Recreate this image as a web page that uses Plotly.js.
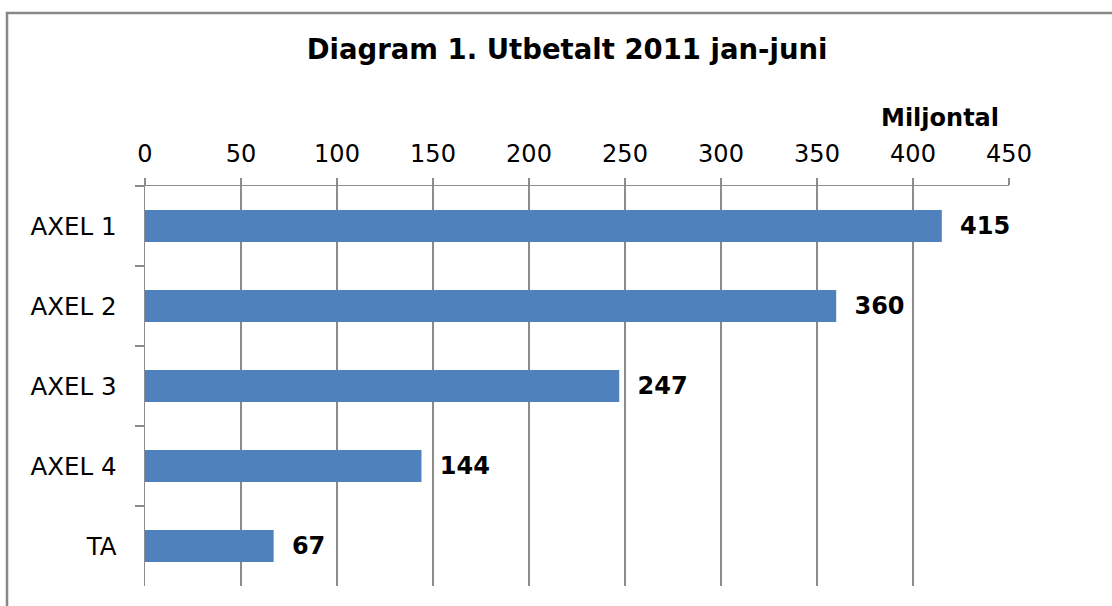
<!DOCTYPE html>
<html>
<head>
<meta charset="utf-8">
<script src="https://cdn.plot.ly/plotly-3.0.1.min.js"></script>
<style>
html,body{margin:0;padding:0;background:#fff;}
#chart{width:1112px;height:606px;}
</style>
</head>
<body>
<div id="chart"></div>
<script>
var categories = ["AXEL 1", "AXEL 2", "AXEL 3", "AXEL 4", "TA"];
var values = [415, 360, 247, 144, 67];
var tickValues = [0, 50, 100, 150, 200, 250, 300, 350, 400, 450];
var titleText = "Diagram 1. Utbetalt 2011 jan-juni";
var unitLabel = "Miljontal";

var FONT = "'DejaVu Sans', Verdana, sans-serif";
var grey = "#8c8c8c";

var trace = {
  type: "bar",
  orientation: "h",
  x: values,
  y: categories,
  width: 0.4,
  marker: {color: "#4F81BD", line: {width: 0}},
  text: values.map(String),
  texttemplate: "\u00a0\u00a0<b>%{x}</b>",
  textposition: "outside",
  cliponaxis: false,
  textfont: {family: FONT, size: 24, color: "#000"},
  hoverinfo: "skip"
};

var layout = {
  width: 1112,
  height: 606,
  margin: {l: 145, r: 103, t: 186, b: 20},
  paper_bgcolor: "#fff",
  plot_bgcolor: "#fff",
  showlegend: false,
  title: {
    text: "<b>" + titleText + "</b>",
    font: {family: FONT, size: 27.5, color: "#000"},
    x: 0.51, xanchor: "center",
    y: 0.918, yanchor: "middle"
  },
  xaxis: {
    side: "top",
    range: [0, 450],
    tickvals: tickValues,
    ticktext: tickValues.map(String),
    showgrid: true,
    gridcolor: grey,
    gridwidth: 1.5,
    zeroline: false,
    showline: true,
    linecolor: grey,
    linewidth: 1.5,
    ticks: "outside",
    ticklen: 7,
    tickwidth: 1.5,
    tickcolor: grey,
    ticklabelstandoff: 6,
    tickfont: {family: FONT, size: 24, color: "#000"},
    fixedrange: true
  },
  yaxis: {
    type: "category",
    categoryorder: "array",
    categoryarray: categories,
    autorange: "reversed",
    showgrid: false,
    zeroline: false,
    showline: true,
    linecolor: grey,
    linewidth: 1.5,
    ticks: "outside",
    tickson: "boundaries",
    ticklen: 9,
    tickwidth: 1.5,
    tickcolor: grey,
    ticklabelstandoff: 22,
    tickfont: {family: FONT, size: 24.5, color: "#000"},
    fixedrange: true
  },
  annotations: [{
    text: "<b>" + unitLabel + "</b>",
    xref: "paper", yref: "paper",
    x: 0.9196, y: 1.17,
    xanchor: "center", yanchor: "middle",
    showarrow: false,
    font: {family: FONT, size: 24, color: "#000"}
  }],
  shapes: [{
    type: "rect",
    xref: "paper", yref: "paper",
    x0: -0.1597, x1: 1.4, y0: -0.3, y1: 1.4325,
    line: {color: "#888", width: 2.5},
    fillcolor: "rgba(0,0,0,0)",
    layer: "below"
  }]
};

Plotly.newPlot("chart", [trace], layout, {displayModeBar: false, staticPlot: true});
</script>
</body>
</html>
